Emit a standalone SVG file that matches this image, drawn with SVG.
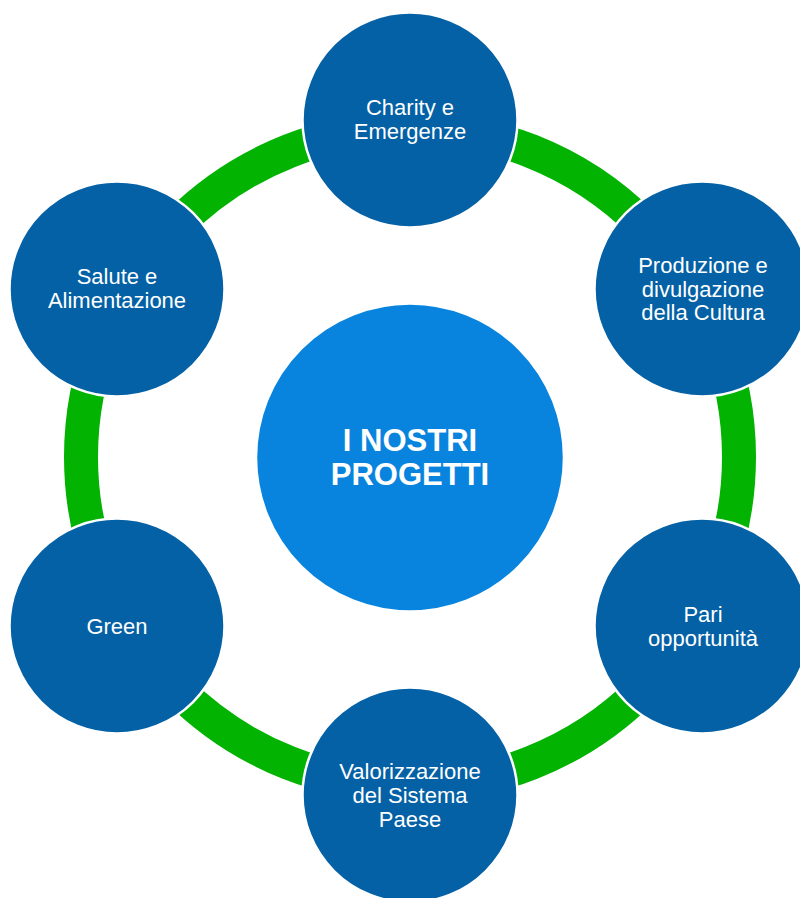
<svg xmlns="http://www.w3.org/2000/svg" width="800" height="898" viewBox="0 0 800 898">
<style>
.n{fill:#0461A5;stroke:#ffffff;stroke-width:2.5}
.c{fill:#0884DE;stroke:#ffffff;stroke-width:2.5}
.t{font-family:"Liberation Sans",Arial,sans-serif;font-size:22px;fill:#ffffff;text-anchor:middle}
.b{font-family:"Liberation Sans",Arial,sans-serif;font-size:31px;font-weight:bold;fill:#ffffff;text-anchor:middle}
</style>
<rect width="800" height="898" fill="#ffffff"/>
<g id="connectors">
<circle cx="410" cy="457" r="329" fill="none" stroke="#02B302" stroke-width="34"/>
</g>
<g id="center">
<circle class="c" cx="410" cy="457.5" r="154"/>
<text class="b" x="410" y="451">I NOSTRI</text>
<text class="b" x="410" y="485">PROGETTI</text>
</g>
<g id="charity">
<circle class="n" cx="410" cy="120" r="107.5"/>
<text class="t" x="410" y="115">Charity e</text>
<text class="t" x="410" y="138.5">Emergenze</text>
</g>
<g id="cultura">
<circle class="n" cx="702" cy="289" r="107.5"/>
<text class="t" x="703" y="273">Produzione e</text>
<text class="t" x="703" y="296.7">divulgazione</text>
<text class="t" x="703" y="320.4">della Cultura</text>
</g>
<g id="pari">
<circle class="n" cx="702" cy="626" r="107.5"/>
<text class="t" x="703" y="621.7">Pari</text>
<text class="t" x="703" y="645.5">opportunità</text>
</g>
<g id="valorizzazione">
<circle class="n" cx="410" cy="795" r="107.5"/>
<text class="t" x="410" y="778.5">Valorizzazione</text>
<text class="t" x="410" y="802.5">del Sistema</text>
<text class="t" x="410" y="826.5">Paese</text>
</g>
<g id="green">
<circle class="n" cx="117" cy="626" r="107.5"/>
<text class="t" x="117" y="634">Green</text>
</g>
<g id="salute">
<circle class="n" cx="117" cy="289" r="107.5"/>
<text class="t" x="117" y="284.3">Salute e</text>
<text class="t" x="117" y="307.8">Alimentazione</text>
</g>
</svg>
